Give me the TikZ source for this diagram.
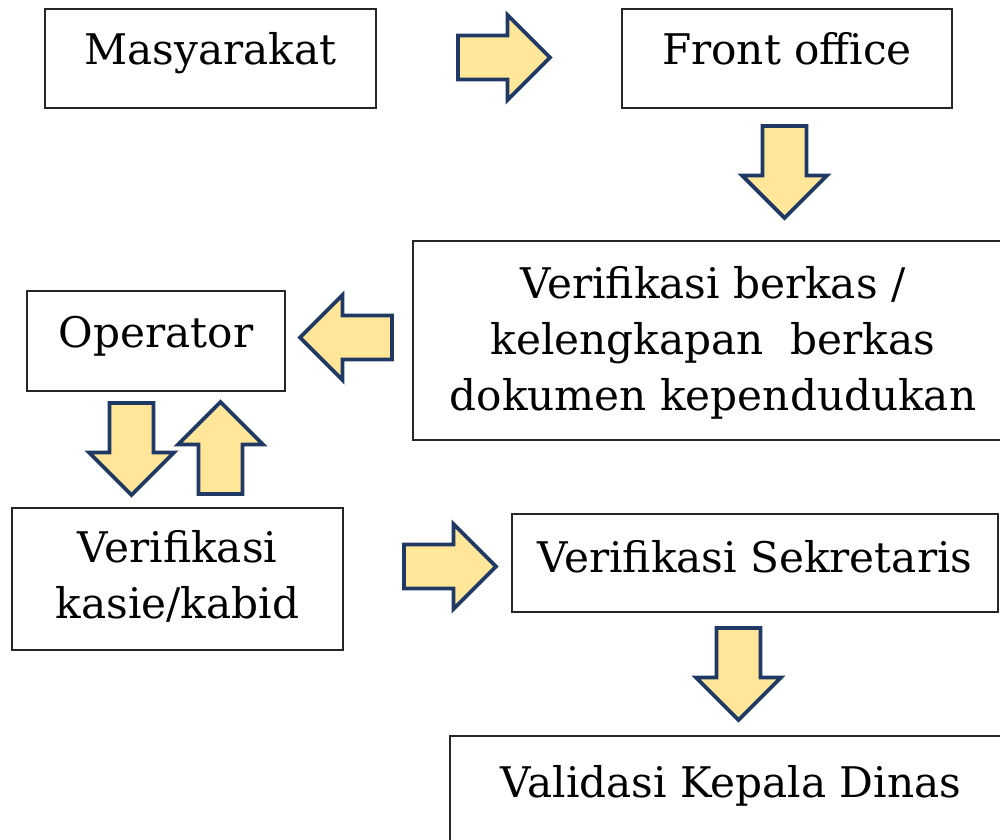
\documentclass[tikz,border=0pt]{standalone}
\usepackage{fontspec}
\setmainfont{DejaVu Serif}
\usetikzlibrary{shapes.arrows}
\definecolor{arrowfill}{HTML}{FFE699}
\definecolor{arrowline}{HTML}{1F3864}
\tikzset{
  box/.style={draw=black!85, line width=0.6pt, rectangle, inner sep=0pt},
  lbl/.style={anchor=base, inner sep=0pt, align=center, font=\fontsize{12}{15.8}\selectfont},
  blockarrow/.style={single arrow, draw=arrowline, fill=arrowfill, line width=1.1pt,
    minimum height=0.92cm, minimum width=0.81cm, single arrow head extend=0.205cm,
    inner xsep=0pt, inner ysep=0.2cm, outer sep=0pt, anchor=tip},
}
\begin{document}
\begin{tikzpicture}[x=0.01cm, y=-0.01cm]
\useasboundingbox (0,0) rectangle (1000,840);
% boxes
\node[box, minimum width=3.31cm, minimum height=0.99cm] (mas) at (210.5,58.5) {};
\node[box, minimum width=3.30cm, minimum height=0.99cm] (fo) at (787,58.5) {};
\node[box, minimum width=6.00cm, minimum height=1.99cm] (verb) at (713,340.5) {};
\node[box, minimum width=2.58cm, minimum height=1.00cm] (op) at (156,341) {};
\node[box, minimum width=3.31cm, minimum height=1.42cm] (kas) at (177.5,579) {};
\node[box, minimum width=4.86cm, minimum height=0.98cm] (sek) at (755,563) {};
\node[box, minimum width=5.62cm, minimum height=1.28cm] (val) at (731,800) {};
% texts (base anchor = baseline of the last line)
\node[lbl] (mas-t) at (210.5,65) {Masyarakat};
\node[lbl] (fo-t) at (787,65) {Front office};
\node[lbl] (verb-t) at (713,410) {Verifikasi berkas /\\kelengkapan\ \ berkas\\dokumen kependudukan};
\node[lbl] (op-t) at (156,348) {Operator};
\node[lbl] (kas-t) at (177.5,618) {Verifikasi\\kasie/kabid};
\node[lbl] (sek-t) at (755,572) {Verifikasi Sekretaris};
\node[lbl] (val-t) at (731,797) {Validasi Kepala Dinas};
% block arrows (connectors), placed by their tips
\node[blockarrow] (a1) at (550,57.5) {};
\node[blockarrow, rotate=-90] (a2) at (784.5,218) {};
\node[blockarrow, rotate=180] (a3) at (300,337.5) {};
\node[blockarrow, rotate=-90] (a4) at (131.5,495) {};
\node[blockarrow, rotate=90] (a5) at (220.5,402) {};
\node[blockarrow] (a6) at (496,566.5) {};
\node[blockarrow, rotate=-90] (a7) at (738.5,720) {};
\end{tikzpicture}
\end{document}
